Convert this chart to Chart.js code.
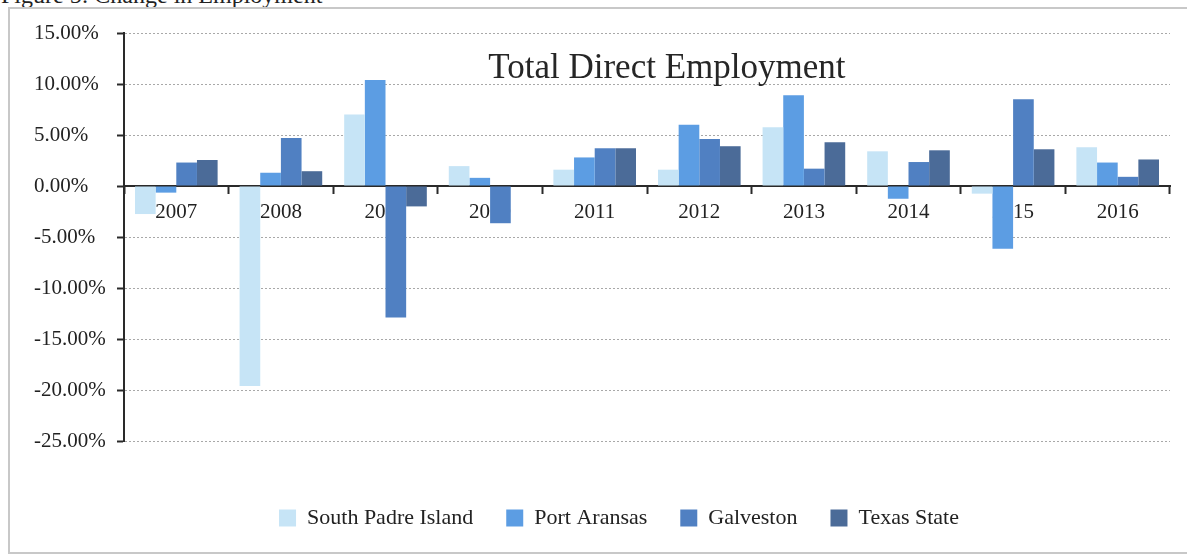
<!DOCTYPE html>
<html>
<head>
<meta charset="utf-8">
<title>Total Direct Employment</title>
<script src="https://cdn.jsdelivr.net/npm/chart.js@4/dist/chart.umd.min.js"></script>
<style>
  html, body { margin: 0; padding: 0; background: #fff; overflow: hidden; }
  #caption {
    position: absolute; left: 1px; top: -18px;
    font: 24px "Liberation Serif", "Times New Roman", serif;
    color: #222; white-space: nowrap;
  }
  #frame {
    position: absolute; left: 8px; top: 7px; width: 1210px; height: 547px;
    border: 2px solid #c8c8c8; box-sizing: border-box;
  }
  #wrap { position: absolute; left: 0; top: 0; width: 1187px; height: 555px; }
</style>
</head>
<body>
<div id="caption">Figure 5: Change in Employment</div>
<div id="frame"></div>
<div id="wrap"><canvas id="chart"></canvas></div>
<script>
// Year-over-year change in total direct employment (%)
const years = ['2007', '2008', '2009', '2010', '2011', '2012', '2013', '2014', '2015', '2016'];
const southPadreIsland = [-2.75, -19.6, 7.0, 1.95, 1.6, 1.6, 5.75, 3.4, -0.75, 3.8];
const portAransas      = [-0.65, 1.3, 10.4, 0.8, 2.8, 6.0, 8.9, -1.25, -6.15, 2.3];
const galveston        = [2.3, 4.7, -12.9, -3.65, 3.7, 4.6, 1.7, 2.35, 8.5, 0.9];
const texasState       = [2.55, 1.45, -2.0, 0.0, 3.7, 3.9, 4.3, 3.5, 3.6, 2.6];
const yTickValues      = [15, 10, 5, 0, -5, -10, -15, -20, -25];
const chartTitleText   = 'Total Direct Employment';

const serif = '"Liberation Serif", "Times New Roman", serif';
Chart.defaults.font.family = serif;

// Title sits inside the plot area, over the grid
const plotTitle = {
  id: 'plotTitle',
  beforeDatasetsDraw(chart) {
    const { ctx, chartArea } = chart;
    ctx.save();
    ctx.font = '35px ' + serif;
    ctx.fillStyle = '#262626';
    ctx.textAlign = 'center';
    ctx.textBaseline = 'alphabetic';
    ctx.fillText(chartTitleText, chartArea.left + chartArea.width * 0.519, chartArea.top + 44.5);
    ctx.restore();
  }
};

// Nudge the legend row down and right, below the plot
const legendOffset = {
  id: 'legendOffset',
  afterLayout(chart) {
    const l = chart.legend;
    if (!l) return;
    const dx = 17, dy = 33;
    l.left += dx; l.right += dx;
    l.top += dy; l.bottom += dy;
  }
};

const tickFont = { family: serif, size: 21 };

new Chart(document.getElementById('chart'), {
  type: 'bar',
  data: {
    labels: years,
    datasets: [
      { label: 'South Padre Island', data: southPadreIsland, backgroundColor: '#c6e4f6' },
      { label: 'Port Aransas',       data: portAransas,      backgroundColor: '#5c9de3' },
      { label: 'Galveston',          data: galveston,        backgroundColor: '#5080c2' },
      { label: 'Texas State',        data: texasState,       backgroundColor: '#4b6b98' }
    ]
  },
  options: {
    responsive: true,
    maintainAspectRatio: false,
    devicePixelRatio: 1,
    animation: false,
    layout: { padding: { left: 34, right: 17, top: 33, bottom: 49 } },
    datasets: {
      bar: { categoryPercentage: 0.79, barPercentage: 1.0, borderWidth: 0 }
    },
    scales: {
      x: {
        position: { y: 0 },
        offset: true,
        grid: {
          display: true, drawOnChartArea: false, drawTicks: true, offset: true,
          tickLength: 7, tickColor: '#2a2a2a', tickWidth: 2, tickBorderDash: []
        },
        border: { display: true, color: '#2a2a2a', width: 2 },
        ticks: { color: '#222', font: tickFont, padding: 7, maxRotation: 0, autoSkip: false }
      },
      y: {
        min: -25, max: 15,
        afterBuildTicks(scale) { scale.ticks = yTickValues.map(v => ({ value: v })); },
        afterFit(scale) { scale.width = 90; },
        grid: {
          color: '#a8a8a8', lineWidth: 1,
          tickColor: '#2a2a2a', tickWidth: 2, tickLength: 7, tickBorderDash: []
        },
        border: { display: true, color: '#2a2a2a', width: 2, dash: [2, 2] },
        ticks: {
          crossAlign: 'far', color: '#222', font: tickFont, padding: 6,
          callback: v => Number(v).toFixed(2) + '%'
        }
      }
    },
    plugins: {
      legend: {
        position: 'bottom', align: 'center',
        labels: {
          boxWidth: 17, boxHeight: 17, padding: 33, color: '#222',
          font: { family: serif, size: 22 }
        }
      },
      tooltip: { enabled: false }
    }
  },
  plugins: [plotTitle, legendOffset]
});
</script>
</body>
</html>
